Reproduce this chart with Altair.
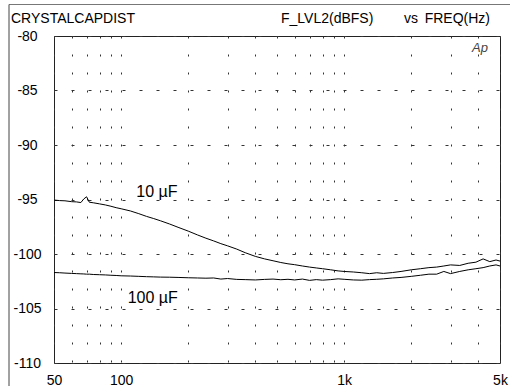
import altair as alt
import pandas as pd

FONT = "Liberation Sans"

# frequencies (Hz) at which the traces were read
freqs = [50, 53, 56, 60, 63, 66, 68, 70, 72, 75, 80, 85, 90, 95, 100, 110, 120, 130,
         140, 150, 165, 180, 200, 220, 240, 260, 280, 300, 330, 360, 400, 440, 480,
         520, 560, 600, 650, 700, 750, 800, 870, 940, 1000, 1100, 1200, 1300, 1400,
         1500, 1650, 1800, 2000, 2200, 2400, 2600, 2800, 3000, 3300, 3600, 3900,
         4200, 4500, 4800, 5000]

cap_10uF = [-95.05, -95.10, -95.12, -95.20, -95.22, -95.28, -94.95, -94.75, -95.25,
            -95.30, -95.40, -95.50, -95.62, -95.75, -95.85, -96.05, -96.30, -96.55,
            -96.75, -96.95, -97.25, -97.55, -97.90, -98.25, -98.55, -98.80, -99.05,
            -99.25, -99.55, -99.88, -100.22, -100.45, -100.62, -100.78, -100.90,
            -100.98, -101.10, -101.20, -101.28, -101.35, -101.45, -101.55, -101.60,
            -101.65, -101.72, -101.80, -101.72, -101.78, -101.70, -101.60, -101.45,
            -101.35, -101.25, -101.20, -101.10, -101.00, -101.05, -100.85, -100.75,
            -100.45, -100.70, -100.55, -100.65]

cap_100uF = [-101.70, -101.72, -101.75, -101.78, -101.80, -101.82, -101.83, -101.85,
             -101.85, -101.88, -101.90, -101.92, -101.95, -101.97, -102.00, -102.02,
             -102.05, -102.08, -102.10, -102.12, -102.13, -102.15, -102.18, -102.20,
             -102.22, -102.20, -102.30, -102.25, -102.33, -102.35, -102.38, -102.33,
             -102.30, -102.36, -102.32, -102.38, -102.30, -102.42, -102.35, -102.40,
             -102.35, -102.28, -102.32, -102.38, -102.40, -102.35, -102.32, -102.28,
             -102.20, -102.15, -102.05, -101.95, -101.85, -101.85, -101.60, -101.80,
             -101.60, -101.45, -101.35, -101.25, -101.10, -101.00, -101.10]

grid_freqs = [50, 60, 70, 80, 90, 100, 200, 300, 400, 500, 600, 700, 800, 900,
              1000, 2000, 3000, 4000, 5000]
y_ticks = [-110, -105, -100, -95, -90, -85, -80]

label_text = ["10 µF", "100 µF"]
label_freq = [117, 107]
label_db = [-94.3, -104.05]

rows = []
for f, v in zip(freqs, cap_10uF):
    rows.append({"freq": f, "db": v, "series": "10 µF"})
for f, v in zip(freqs, cap_100uF):
    rows.append({"freq": f, "db": v, "series": "100 µF"})
df = pd.DataFrame(rows)
ann = pd.DataFrame({"freq": label_freq, "db": label_db, "label": label_text})
dummy = pd.DataFrame({"k": [0]})

xscale = alt.Scale(type="log", domain=[50, 5000], nice=False)
yscale = alt.Scale(domain=[-110, -80], nice=False, zero=False)

x_axis = alt.Axis(
    values=grid_freqs,
    labelExpr="indexof([50,100,1000,5000], datum.value) >= 0 ? (datum.value >= 1000 ? (datum.value/1000) + 'k' : '' + datum.value) : ''",
    grid=True, gridDash=[2, 16], gridColor="#333", gridWidth=1,
    ticks=False, tickSize=0, domain=False, labelOverlap=False, labelFlush=False,
    labelPadding=10, labelFontSize=14, labelFont=FONT, labelColor="black",
    labelBaseline="top", title=None,
)
y_axis = alt.Axis(
    values=y_ticks, grid=True, gridDash=[3, 14], gridColor="#333", gridWidth=1,
    labelExpr="'-' + (-datum.value)",
    ticks=False, tickSize=0, domain=False, labelAlign="center", labelPadding=27,
    labelFontSize=14, labelFont=FONT, labelColor="black", labelOverlap=False,
    labelFlush=False, title=None,
)

lines = alt.Chart(df).mark_line(color="black", strokeWidth=1).encode(
    x=alt.X("freq:Q", scale=xscale, axis=x_axis),
    y=alt.Y("db:Q", scale=yscale, axis=y_axis),
    detail="series:N",
)

labels = alt.Chart(ann).mark_text(
    align="left", baseline="middle", fontSize=16, font=FONT, color="black"
).encode(
    x=alt.X("freq:Q", scale=xscale),
    y=alt.Y("db:Q", scale=yscale),
    text="label:N",
)

def header(txt, x, align="left", size=14, style="normal", color="black", y=-13.3, baseline="alphabetic"):
    return alt.Chart(dummy).mark_text(
        align=align, baseline=baseline, fontSize=size, font=FONT,
        fontStyle=style, color=color, text=txt
    ).encode(x=alt.value(x), y=alt.value(y))

h1 = header("CRYSTALCAPDIST", -43)
h2 = header("F_LVL2(dBFS)", 227)
h3 = header("vs", 350)
h4 = header("FREQ(Hz)", 436, align="right")
ap = header("Ap", 434, align="right", size=13, style="italic", color="#444", y=12, baseline="middle")

frame_top = alt.Chart(dummy).mark_rule(color="#777", strokeWidth=1).encode(
    x=alt.value(-45), x2=alt.value(456), y=alt.value(-31.5)
)
frame_left = alt.Chart(dummy).mark_rule(color="#444", strokeWidth=1).encode(
    x=alt.value(-45), y=alt.value(-31.5), y2=alt.value(350)
)

chart = alt.layer(
    lines, labels, h1, h2, h3, h4, ap, frame_top, frame_left
).properties(
    width=446, height=327,
    padding={"left": 54, "top": 36, "right": 10, "bottom": 23},
    autosize=alt.AutoSizeParams(type="none"),
    background="white",
).configure_view(stroke="#222", strokeWidth=1)

chart.save("out.html", embed_options={"renderer": "svg", "actions": False})
